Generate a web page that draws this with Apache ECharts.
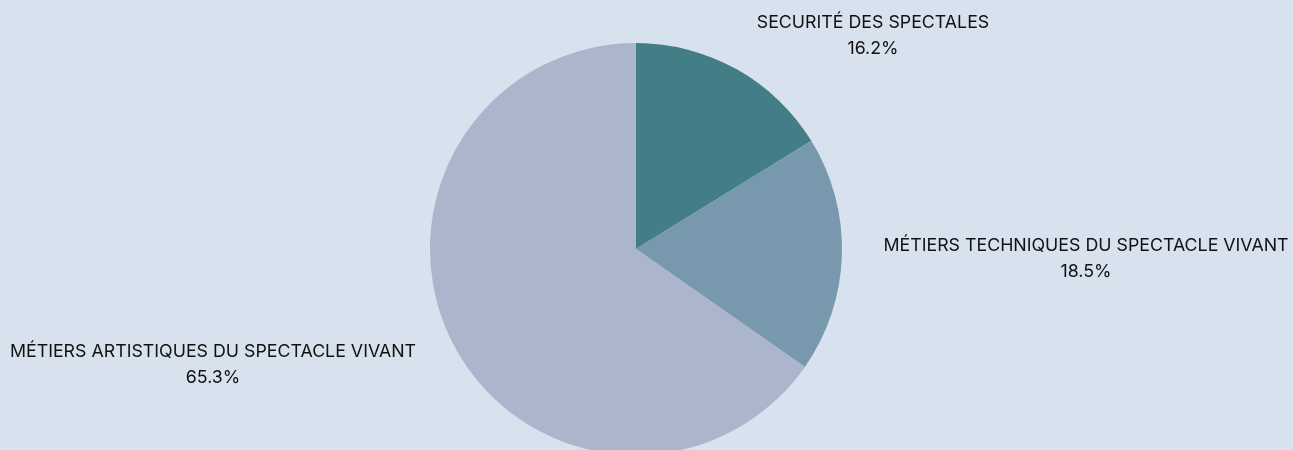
<!DOCTYPE html>
<html><head><meta charset="utf-8">
<script src="https://cdn.jsdelivr.net/npm/echarts@6/dist/echarts.min.js"></script>
<style>html,body{margin:0;padding:0;background:#d8e2ee}#c{width:1293px;height:450px}</style>
</head><body><div id="c"></div>
<script>
const categories = ["SECURITÉ DES SPECTALES", "MÉTIERS TECHNIQUES DU SPECTACLE VIVANT", "MÉTIERS ARTISTIQUES DU SPECTACLE VIVANT"];
const values = [16.2, 18.5, 65.3];
const colors = ["#437d86", "#7898ad", "#abb6cc"];
const labelPos = [[873, 36], [1086, 259], [213, 365]];

const chart = echarts.init(document.getElementById('c'));
chart.setOption({
  backgroundColor: '#d8e2ee',
  animation: false,
  series: [{
    type: 'pie',
    center: [636, 249],
    radius: [0, 206],
    startAngle: 90,
    clockwise: true,
    data: categories.map((n, i) => ({name: n, value: values[i], itemStyle: {color: colors[i]}})),
    label: {
      show: true,
      position: 'outside',
      formatter: p => p.name + '\n' + p.value.toFixed(1) + '%',
      color: '#111111',
      fontFamily: 'Inter',
      fontSize: 17.8,
      lineHeight: 26,
      align: 'center',
      overflow: 'none',
      width: 600
    },
    labelLine: {show: false},
    labelLayout: p => ({x: labelPos[p.dataIndex][0], y: labelPos[p.dataIndex][1], align: 'center', verticalAlign: 'middle'})
  }]
});
</script></body></html>
